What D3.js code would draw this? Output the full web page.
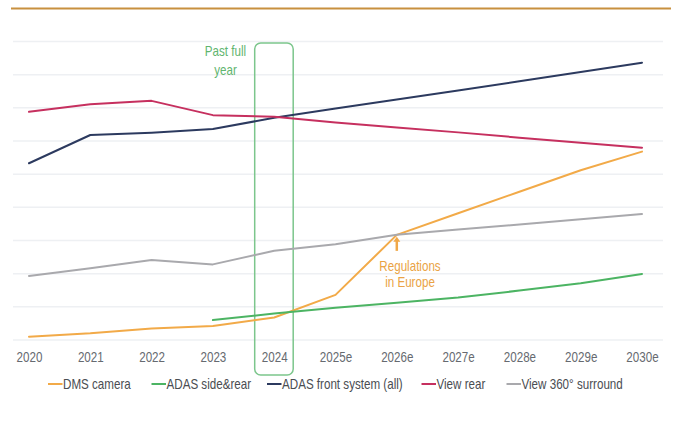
<!DOCTYPE html>
<html>
<head>
<meta charset="utf-8">
<script src="https://cdn.jsdelivr.net/npm/d3@7"></script>
<style>
  html, body { margin: 0; padding: 0; background: #ffffff; }
  svg { display: block; }
  text { font-family: "Liberation Sans", Arial, sans-serif; font-size: 14px; }
</style>
</head>
<body>
<svg id="chart" width="678" height="423"></svg>
<script>
// Years on the x axis (estimates marked with "e")
const years = ["2020", "2021", "2022", "2023", "2024", "2025e", "2026e", "2027e", "2028e", "2029e", "2030e"];

// Relative volume index per camera application
const dmsCamera   = [0.10, 0.20, 0.35, 0.42, 0.68, 1.36, 3.17, 3.82, 4.47, 5.12, 5.68];
const adasSide    = [null, null, null, 0.60, 0.80, 0.97, 1.12, 1.28, 1.49, 1.71, 1.99];
const adasFront   = [5.33, 6.18, 6.25, 6.36, 6.70, 6.98, 7.25, 7.52, 7.80, 8.08, 8.36];
const viewRear    = [6.88, 7.11, 7.21, 6.78, 6.73, 6.56, 6.41, 6.26, 6.10, 5.95, 5.80];
const view360     = [1.93, 2.16, 2.41, 2.28, 2.69, 2.89, 3.17, 3.33, 3.48, 3.64, 3.80];

const seriesNames  = ["DMS camera", "ADAS side&rear", "ADAS front system (all)", "View rear", "View 360° surround"];
const seriesColors = ["#f2aa48", "#4cb463", "#2c3a5f", "#c6305f", "#a9a9ad"];
const gridValues   = [0, 1, 2, 3, 4, 5, 6, 7, 8, 9];

const series = [dmsCamera, adasSide, adasFront, viewRear, view360].map((vals, i) => ({
  name: seriesNames[i],
  color: seriesColors[i],
  points: years.map((y, j) => ({ year: y, value: vals[j] }))
}));

// Horizontal squeeze that gives the narrow house typeface look
const NARROW = "scale(0.83,1)";

const svg = d3.select("#chart");

const x = d3.scalePoint().domain(years).range([29, 642]);
const y = d3.scaleLinear().domain([0, 9]).range([340, 41.5]);

// Brand rule across the top
svg.append("line")
  .attr("x1", 11).attr("x2", 671).attr("y1", 8.5).attr("y2", 8.5)
  .attr("stroke", "#c8903f").attr("stroke-width", 2);

// Horizontal grid
svg.append("g").selectAll("line")
  .data(gridValues)
  .join("line")
  .attr("x1", 13).attr("x2", 663)
  .attr("y1", d => y(d)).attr("y2", d => y(d))
  .attr("stroke", "#eef0f3").attr("stroke-width", 1.5);

// X axis labels
const xAxis = d3.axisBottom(x).tickSize(0).tickPadding(0);
const gx = svg.append("g").attr("transform", "translate(0,352)").call(xAxis);
gx.select(".domain").remove();
gx.selectAll("text")
  .attr("dy", "0.71em")
  .attr("transform", NARROW)
  .attr("fill", "#666a70")
  .style("font-size", "14px")
  .style("font-family", '"Liberation Sans", Arial, sans-serif');

// Highlight for the last full year
const bandX = x("2024");
svg.append("rect")
  .attr("x", bandX - 19.5).attr("y", 43)
  .attr("width", 38.5).attr("height", 332)
  .attr("rx", 6).attr("ry", 6)
  .attr("fill", "none")
  .attr("stroke", "#7cc68c").attr("stroke-width", 1.5);

// Multi-line narrow label helper
function narrowLabel(cx, cy, lines, lineGap, color) {
  const g = svg.append("g").attr("transform", `translate(${cx},${cy}) ${NARROW}`);
  g.append("text")
    .attr("text-anchor", "middle")
    .attr("fill", color)
    .selectAll("tspan")
    .data(lines)
    .join("tspan")
    .attr("x", 0)
    .attr("y", (d, i) => i * lineGap)
    .attr("dy", "0.35em")
    .text(d => d);
}

narrowLabel(225.5, 51, ["Past full", "year"], 19, "#5fb56f");

// Series lines
const line = d3.line()
  .defined(d => d.value !== null)
  .x(d => x(d.year))
  .y(d => y(d.value));

svg.append("g").selectAll("path")
  .data(series)
  .join("path")
  .attr("d", d => line(d.points))
  .attr("fill", "none")
  .attr("stroke", d => d.color)
  .attr("stroke-width", 2)
  .attr("stroke-linejoin", "round")
  .attr("stroke-linecap", "round");

// Annotation: regulation pushes DMS adoption
const regX = x("2026e");
const regY = y(dmsCamera[6]);
svg.append("line")
  .attr("x1", regX).attr("x2", regX)
  .attr("y1", regY + 16).attr("y2", regY + 6)
  .attr("stroke", "#f0a848").attr("stroke-width", 2.5);
svg.append("path")
  .attr("d", `M${regX - 3.5},${regY + 7} L${regX},${regY + 2} L${regX + 3.5},${regY + 7} Z`)
  .attr("fill", "#f0a848");

narrowLabel(410, 266.5, ["Regulations", "in Europe"], 16, "#eaa345");

// Legend
const legendX = [48, 151.5, 267, 421.5, 506.5];
const legend = svg.append("g").selectAll("g")
  .data(series)
  .join("g")
  .attr("transform", (d, i) => `translate(${legendX[i]},384)`);
legend.append("line")
  .attr("x1", 0).attr("x2", 14.5)
  .attr("stroke", d => d.color).attr("stroke-width", 2);
legend.append("text")
  .attr("transform", `translate(15,0) ${NARROW}`)
  .attr("dy", "0.35em")
  .attr("fill", "#4a4d52")
  .text(d => d.name);
</script>
</body>
</html>
